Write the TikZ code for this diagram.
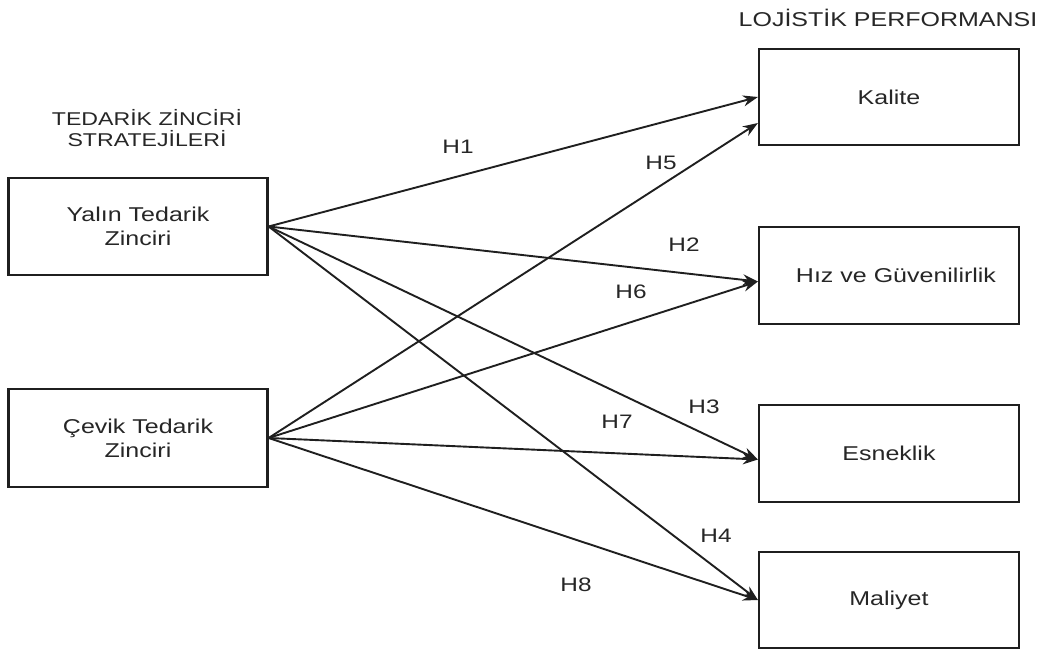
\documentclass[tikz,border=0pt]{standalone}
\usepackage{fontspec}
\setmainfont[FakeStretch=1.25]{Liberation Sans}
\usepackage{tikz}
\usetikzlibrary{calc, arrows.meta}
\definecolor{ink}{gray}{0.12}
\definecolor{txt}{gray}{0.15}
\tikzstyle{box}=[draw=ink, line width=2.2pt, shape=rectangle, minimum width=259pt, minimum height=97pt, inner sep=0pt, align=center, text=txt, font=\fontsize{20}{24}\selectfont]
\tikzstyle{hyp}=[inner sep=0pt, text=txt, font=\fontsize{19.5}{22}\selectfont]
\tikzstyle{head}=[inner sep=0pt, align=center, text=txt]
\tikzstyle{link}=[->, draw=ink, line width=1.9pt]
\tikzset{>={Stealth[length=15pt, width=11pt]}}

\begin{document}
\begin{tikzpicture}[x=1pt, y=-1pt]
\useasboundingbox (0,0) rectangle (1047,652);
% the two headings
\node[head, font=\fontsize{18.5}{21}\selectfont] (T1) at (147,128) {TEDARİK ZİNCİRİ\\STRATEJİLERİ};
\node[head, font=\fontsize{20}{23}\selectfont] (T2) at (888,18) {LOJİSTİK PERFORMANSI};
% the strategies (left)
\node[box] (Y) at (138,226.5) {Yalın Tedarik\\Zinciri};
\node[box, minimum height=98pt] (C) at (138,438) {Çevik Tedarik\\Zinciri};
% the performance measures (right)
\node[box, minimum width=260pt, minimum height=96pt] (K) at (889,97) {Kalite};
\node[box, minimum width=260pt] (H) at (889,275.5) {\hspace*{14pt}Hız ve Güvenilirlik};
\node[box, minimum width=260pt] (E) at (889,453.5) {Esneklik};
\node[box, minimum width=260pt, minimum height=96pt] (M) at (889,600) {Maliyet};
% the hypotheses
\node[hyp] (h1) at (458,147) {H1};
\node[hyp] (h2) at (684,245) {H2};
\node[hyp] (h3) at (704,407) {H3};
\node[hyp] (h4) at (716,536) {H4};
\node[hyp] (h5) at (661,163) {H5};
\node[hyp] (h6) at (631,292) {H6};
\node[hyp] (h7) at (617,422) {H7};
\node[hyp] (h8) at (576,585) {H8};
% the arrows
\draw[link] (Y.east) -- (K.west);
\draw[link] (Y.east) -- ($(H.west)+(0,6)$);
\draw[link] (Y.east) -- ($(E.west)+(0,6)$);
\draw[link] (Y.east) -- (M.west);
\draw[link] (C.east) -- ($(K.west)+(0,26)$);
\draw[link] (C.east) -- ($(H.west)+(0,6)$);
\draw[link] (C.east) -- ($(E.west)+(0,6)$);
\draw[link] (C.east) -- (M.west);
\end{tikzpicture}
\end{document}
